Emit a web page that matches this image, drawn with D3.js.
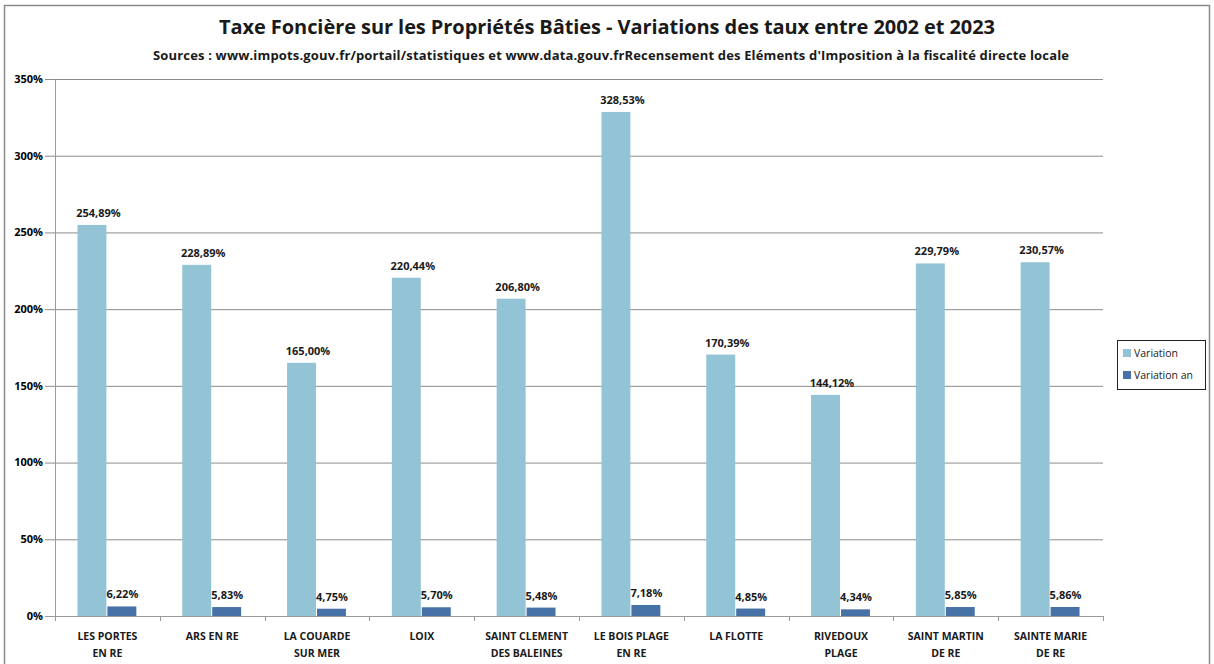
<!DOCTYPE html>
<html>
<head>
<meta charset="utf-8">
<script src="https://cdn.jsdelivr.net/npm/d3@7"></script>
<style>
  body { margin: 0; background: #fff; }
  svg { font-family: "Open Sans", "Liberation Sans", sans-serif; }
</style>
</head>
<body>
<svg width="1214" height="664"></svg>
<script>
// data
var communes = [
  ["LES PORTES", "EN RE"], ["ARS EN RE"], ["LA COUARDE", "SUR MER"], ["LOIX"],
  ["SAINT CLEMENT", "DES BALEINES"], ["LE BOIS PLAGE", "EN RE"], ["LA FLOTTE"],
  ["RIVEDOUX", "PLAGE"], ["SAINT MARTIN", "DE RE"], ["SAINTE MARIE", "DE RE"]
];
var variation = [254.89, 228.89, 165.00, 220.44, 206.80, 328.53, 170.39, 144.12, 229.79, 230.57];
var variationAn = [6.22, 5.83, 4.75, 5.70, 5.48, 7.18, 4.85, 4.34, 5.85, 5.86];
var seriesNames = ["Variation", "Variation an"];
var yTicks = [0, 50, 100, 150, 200, 250, 300, 350];

var svg = d3.select("svg"),
    margin = {top: 79, right: 111, bottom: 48, left: 55},
    width = +svg.attr("width") - margin.left - margin.right,
    height = +svg.attr("height") - margin.top - margin.bottom;

var colors = ["#93c4d6", "#4672a8"];

// outer frame
svg.append("rect")
    .attr("x", 4.5).attr("y", 5.5)
    .attr("width", 1205).attr("height", 665)
    .attr("fill", "none").attr("stroke", "#8a8a8a").attr("stroke-width", 1.5);

// titles
svg.append("text")
    .attr("x", 607).attr("y", 34)
    .attr("text-anchor", "middle")
    .attr("font-size", 20).attr("font-weight", "bold")
    .attr("fill", "#1a1a1a")
    .attr("textLength", 776)
    .text("Taxe Foncière sur les Propriétés Bâties - Variations des taux entre 2002 et 2023");

svg.append("text")
    .attr("x", 611).attr("y", 60)
    .attr("text-anchor", "middle")
    .attr("font-size", 13).attr("font-weight", "bold")
    .attr("fill", "#1a1a1a")
    .attr("textLength", 916)
    .text("Sources : www.impots.gouv.fr/portail/statistiques et www.data.gouv.frRecensement des Eléments d'Imposition à la fiscalité directe locale");

var g = svg.append("g").attr("transform", "translate(" + margin.left + "," + margin.top + ")");

var x = d3.scaleBand()
    .domain(d3.range(communes.length))
    .range([0, width]);

var x1 = d3.scaleBand()
    .domain([0, 1])
    .range([0, x.bandwidth()])
    .paddingInner(0)
    .paddingOuter(0.75);

var y = d3.scaleLinear()
    .domain([0, 350])
    .range([height, 0]);

// gridlines
g.append("g")
  .selectAll("line")
  .data(yTicks)
  .enter().append("line")
    .attr("x1", -10).attr("x2", width)
    .attr("y1", function(d) { return y(d) + 0.5; })
    .attr("y2", function(d) { return y(d) + 0.5; })
    .attr("stroke", function(d) { return d === 0 ? "#9a9a9a" : "#8c8c8c"; })
    .attr("stroke-width", 1);

// y axis line
g.append("line")
    .attr("x1", 0.5).attr("x2", 0.5)
    .attr("y1", 0).attr("y2", height)
    .attr("stroke", "#9a9a9a");

// y tick labels
g.append("g")
  .selectAll("text")
  .data(yTicks)
  .enter().append("text")
    .attr("x", -12)
    .attr("y", function(d) { return y(d); })
    .attr("dy", "0.35em")
    .attr("text-anchor", "end")
    .attr("font-size", 11).attr("font-weight", "bold")
    .text(function(d) { return d + "%"; });

// bars
var rows = communes.map(function(c, i) { return [variation[i], variationAn[i]]; });

var groups = g.append("g")
  .selectAll("g")
  .data(rows)
  .enter().append("g")
    .attr("transform", function(d, i) { return "translate(" + x(i) + ",0)"; });

groups.selectAll("rect")
  .data(function(d) { return d; })
  .enter().append("rect")
    .attr("x", function(d, j) { return x1(j); })
    .attr("y", function(d) { return y(d); })
    .attr("width", x1.bandwidth() - 1)
    .attr("height", function(d) { return height - y(d); })
    .attr("fill", function(d, j) { return colors[j]; });

groups.selectAll("text")
  .data(function(d) { return d; })
  .enter().append("text")
    .attr("x", function(d, j) { return x1(j) + x1.bandwidth() / 2 + (j === 0 ? 6 : 0); })
    .attr("y", function(d) { return y(d) - 8; })
    .attr("text-anchor", "middle")
    .attr("font-size", 11).attr("font-weight", "bold")
    .attr("fill", "#1a1a1a")
    .text(function(d) { return d.toFixed(2).replace(".", ",") + "%"; });

// x ticks
g.append("g")
  .selectAll("line")
  .data(d3.range(communes.length + 1))
  .enter().append("line")
    .attr("x1", function(i) { return Math.round(i * x.step()) + 0.5; })
    .attr("x2", function(i) { return Math.round(i * x.step()) + 0.5; })
    .attr("y1", height).attr("y2", height + 5)
    .attr("stroke", "#9a9a9a");

// category labels
var cat = g.append("g")
  .selectAll("text")
  .data(communes)
  .enter().append("text")
    .attr("text-anchor", "middle")
    .attr("font-size", 10.5).attr("font-weight", "bold")
    .attr("fill", "#1a1a1a")
    .attr("transform", function(d, i) { return "translate(" + (x(i) + x.bandwidth() / 2) + "," + (height + 24) + ")"; });

cat.selectAll("tspan")
  .data(function(d) { return d; })
  .enter().append("tspan")
    .attr("x", 0)
    .attr("dy", function(d, k) { return k === 0 ? 0 : 17; })
    .text(function(d) { return d; });

// legend
var legend = svg.append("g").attr("transform", "translate(1117,340)");

legend.append("rect")
    .attr("x", 0.5).attr("y", 0.5)
    .attr("width", 88).attr("height", 49)
    .attr("fill", "#fff").attr("stroke", "#222");

var item = legend.selectAll("g")
  .data(seriesNames)
  .enter().append("g")
    .attr("transform", function(d, i) { return "translate(6," + (9 + i * 22) + ")"; });

item.append("rect")
    .attr("width", 8).attr("height", 8)
    .attr("fill", function(d, i) { return colors[i]; });

item.append("text")
    .attr("x", 11).attr("y", 4)
    .attr("dy", "0.35em")
    .attr("font-size", 10.5)
    .attr("fill", "#222")
    .text(function(d) { return d; });
</script>
</body>
</html>
